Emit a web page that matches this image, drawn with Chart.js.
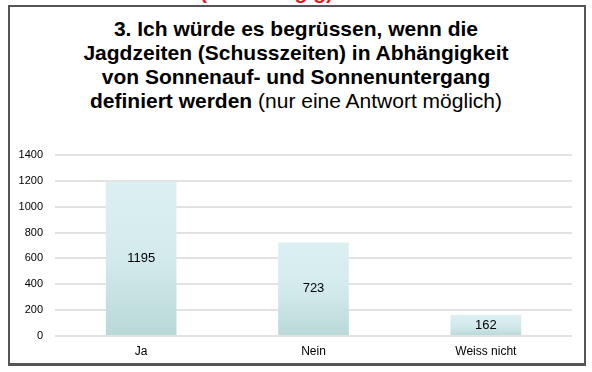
<!DOCTYPE html>
<html>
<head>
<meta charset="utf-8">
<script src="https://cdn.jsdelivr.net/npm/chart.js@4"></script>
<style>
  html, body { margin: 0; padding: 0; background: #fff; }
  body { width: 592px; height: 372px; position: relative; overflow: hidden; font-family: "Liberation Sans", Arial, sans-serif; }
  #redline { position: absolute; right: 259px; top: -20px; white-space: nowrap; color: #e8141c; font: bold 21px/24px "Liberation Sans", Arial, sans-serif; }
  #box { position: absolute; left: 8px; top: 5px; width: 574px; height: 356px; border: 2px solid #555; border-bottom-width: 3px; background: #fff; }
  #title { position: absolute; left: 0; top: 17px; width: 592px; text-align: center; font: bold 21px/24px "Liberation Sans", Arial, sans-serif; color: #000; }
  #title span { font-weight: normal; }
  #wrap { position: absolute; left: 0; top: 0; width: 592px; height: 372px; }
</style>
</head>
<body>
<div id="redline">(unabhängig)</div>
<div id="box"></div>
<div id="title">3. Ich würde es begrüssen, wenn die<br>Jagdzeiten (Schusszeiten) in Abhängigkeit<br>von Sonnenauf- und Sonnenuntergang<br>definiert werden <span>(nur eine Antwort möglich)</span></div>
<div id="wrap"><canvas id="chart" width="592" height="372"></canvas></div>
<script>
const categories = ["Ja", "Nein", "Weiss nicht"];
const answers = [1195, 723, 162];
const yTicks = [0, 200, 400, 600, 800, 1000, 1200, 1400];

// value written in the middle of each bar
const barLabels = {
    id: "barLabels",
    afterDatasetsDraw(chart) {
        const ctx = chart.ctx;
        const meta = chart.getDatasetMeta(0);
        ctx.save();
        ctx.font = "13px 'Liberation Sans', Arial, sans-serif";
        ctx.fillStyle = "#000";
        ctx.textAlign = "center";
        ctx.textBaseline = "middle";
        meta.data.forEach((bar, i) => {
            ctx.fillText(String(answers[i]), bar.x, (bar.y + bar.base) / 2);
        });
        ctx.restore();
    }
};

function barFill(context) {
    const chart = context.chart;
    if (!chart.chartArea || context.parsed === undefined) return "#cfe8ea";
    const y = chart.scales.y;
    const top = y.getPixelForValue(context.parsed.y);
    const bottom = y.getPixelForValue(0);
    const g = chart.ctx.createLinearGradient(0, top, 0, bottom);
    g.addColorStop(0, "#dcf0f2");
    g.addColorStop(0.5, "#d3eaec");
    g.addColorStop(1, "#b9d8d8");
    return g;
}

new Chart(document.getElementById("chart"), {
    type: "bar",
    data: {
        labels: categories,
        datasets: [{
            label: "",
            data: answers,
            backgroundColor: barFill,
            borderWidth: 0,
            categoryPercentage: 1,
            barPercentage: 0.41,
        }],
    },
    options: {
        responsive: false,
        animation: false,
        events: [],
        layout: { padding: { top: 155, left: 0, right: 20, bottom: 0 } },
        plugins: { legend: { display: false }, tooltip: { enabled: false } },
        scales: {
            x: {
                afterFit(scale) { scale.height = 36; },
                grid: { display: false },
                border: { display: false },
                ticks: { color: "#000", font: { size: 12, family: "'Liberation Sans', Arial, sans-serif" }, padding: 0 },
            },
            y: {
                min: 0,
                max: 1400,
                afterFit(scale) { scale.width = 55; },
                afterBuildTicks(scale) { scale.ticks = yTicks.map(v => ({ value: v })); },
                grid: { color: "#e2e2e2", lineWidth: 2, drawTicks: false },
                border: { display: false },
                ticks: {
                    color: "#000",
                    font: { size: 11, family: "'Liberation Sans', Arial, sans-serif" },
                    padding: 12,
                    callback: v => String(v),
                },
            },
        },
    },
    plugins: [barLabels],
});
</script>
</body>
</html>
